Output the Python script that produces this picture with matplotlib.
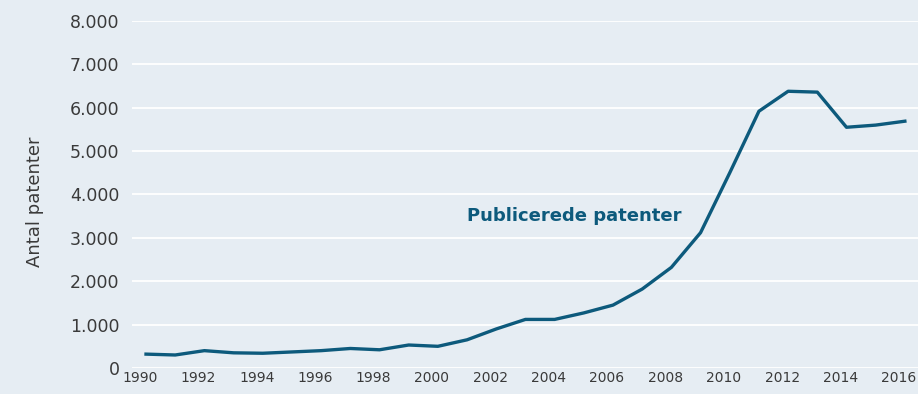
import matplotlib
matplotlib.use("Agg")
import matplotlib.pyplot as plt
import matplotlib.transforms as mtransforms
from matplotlib.ticker import FuncFormatter

years = list(range(1990, 2017))
patents = [320, 300, 400, 350, 340, 370, 400, 450, 420, 530, 500, 650,
           900, 1120, 1120, 1270, 1450, 1820, 2320, 3120, 4500, 5920,
           6380, 6360, 5550, 5600, 5690]
x_ticks = list(range(1990, 2017, 2))
y_ticks = list(range(0, 8001, 1000))

bg = "#e6edf3"
line_color = "#0d5a7c"
text_color = "#3a3a3a"

plt.rcParams["font.family"] = ["DejaVu Sans"]

fig = plt.figure(figsize=(9.18, 3.94), dpi=100, facecolor=bg)
ax = fig.add_axes([132 / 918, 26 / 394, 786 / 918, 347 / 394], facecolor=bg)

ax.plot(years, patents, color=line_color, linewidth=2.4, clip_on=False, zorder=3)

ax.set_xlim(1989.52, 2016.45)
ax.set_ylim(0, 8000)
ax.set_xticks(x_ticks)
ax.set_yticks(y_ticks)
ax.yaxis.set_major_formatter(FuncFormatter(lambda v, p: f"{int(v):,}".replace(",", ".")))
ax.grid(axis="y", color="white", linewidth=1.3)
ax.set_axisbelow(True)
for s in ax.spines.values():
    s.set_visible(False)
ax.tick_params(axis="both", length=0, colors=text_color)
ax.tick_params(axis="y", labelsize=12.5, pad=9)
ax.tick_params(axis="x", labelsize=10, pad=2)

# nudge the year labels slightly left of their ticks
shift = mtransforms.ScaledTranslation(-6 / 100, 0, fig.dpi_scale_trans)
for lbl in ax.get_xticklabels():
    lbl.set_transform(lbl.get_transform() + shift)

ax.set_ylabel("Antal patenter", fontsize=13, color=text_color)
ax.yaxis.set_label_coords(-0.112, 0.478)

ax.text(2001.0, 3500, "Publicerede patenter", color=line_color, fontsize=13,
        fontweight="bold", ha="left", va="center")

fig.savefig("out.png", dpi=100, facecolor=bg)
